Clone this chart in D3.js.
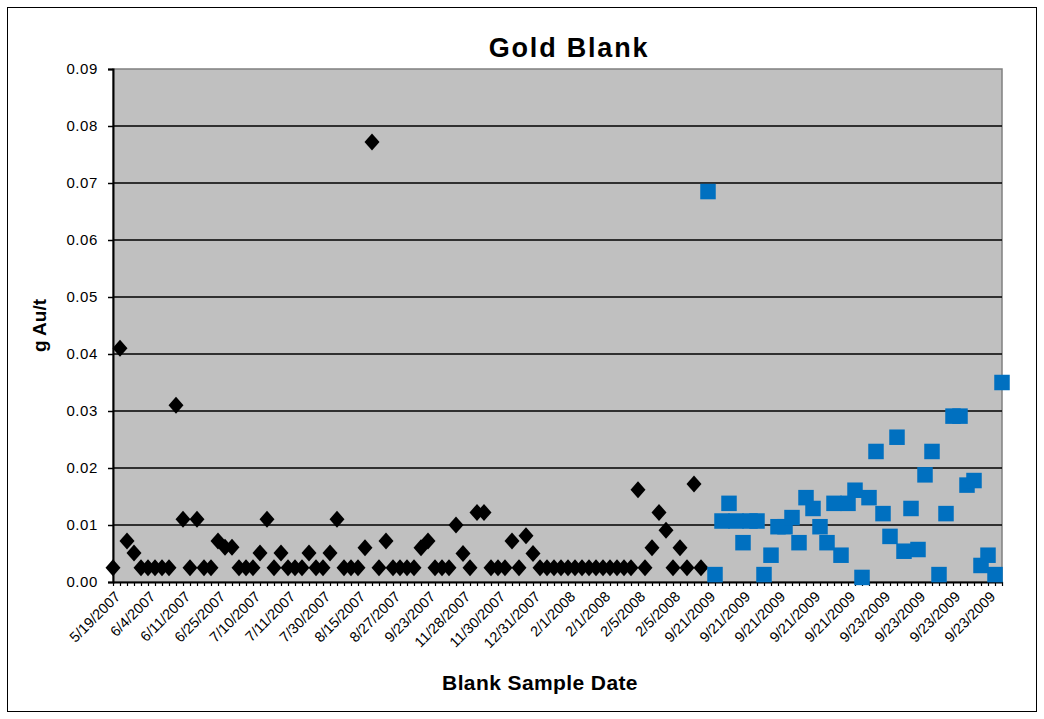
<!DOCTYPE html>
<html>
<head>
<meta charset="utf-8">
<script src="https://cdn.jsdelivr.net/npm/d3@7"></script>
<style>
  body { margin: 0; background: #fff; }
  text { font-family: Arial, "Liberation Sans", sans-serif; fill: #000; }
</style>
</head>
<body>
<svg id="chart" width="1044" height="719"></svg>
<script>
// Date labels shown on the category axis (one every five samples)
const tickLabels = [
  "5/19/2007", "6/4/2007", "6/11/2007", "6/25/2007", "7/10/2007", "7/11/2007",
  "7/30/2007", "8/15/2007", "8/27/2007", "9/23/2007", "11/28/2007", "11/30/2007",
  "12/31/2007", "2/1/2008", "2/1/2008", "2/5/2008", "2/5/2008",
  "9/21/2009", "9/21/2009", "9/21/2009", "9/21/2009", "9/21/2009",
  "9/23/2009", "9/23/2009", "9/23/2009", "9/23/2009"
];
const labelEvery = 5;

// Blank assays 2007–2008 (g Au/t)
const blanks2007 = [
  0.0025, 0.041, 0.0072, 0.0051, 0.0025, 0.0025, 0.0025, 0.0025, 0.0025, 0.031,
  0.011, 0.0025, 0.011, 0.0025, 0.0025, 0.0072, 0.0061, 0.0061, 0.0025, 0.0025,
  0.0025, 0.0051, 0.011, 0.0025, 0.0051, 0.0025, 0.0025, 0.0025, 0.0051, 0.0025,
  0.0025, 0.0051, 0.011, 0.0025, 0.0025, 0.0025, 0.006, 0.0772, 0.0025, 0.0072,
  0.0025, 0.0025, 0.0025, 0.0025, 0.006, 0.0072, 0.0025, 0.0025, 0.0025, 0.010,
  0.005, 0.0025, 0.0122, 0.0122, 0.0025, 0.0025, 0.0025, 0.0072, 0.0025, 0.0081,
  0.005, 0.0025, 0.0025, 0.0025, 0.0025, 0.0025, 0.0025, 0.0025, 0.0025, 0.0025,
  0.0025, 0.0025, 0.0025, 0.0025, 0.0025, 0.0162, 0.0025, 0.006, 0.0122, 0.0091,
  0.0025, 0.006, 0.0025, 0.0172, 0.0025
];

// Blank assays 2009 (g Au/t)
const blanks2009 = [
  0.0685, 0.0013, 0.0107, 0.0138, 0.0107, 0.0069, 0.0107, 0.0107, 0.0013, 0.0047,
  0.0097, 0.0097, 0.0113, 0.0069, 0.0148, 0.0129, 0.0097, 0.0069, 0.0138, 0.0047,
  0.0138, 0.0161, 0.0008, 0.0148, 0.0229, 0.0120, 0.0080, 0.0254, 0.0054, 0.0129,
  0.0057, 0.0188, 0.0229, 0.0013, 0.0120, 0.0291, 0.0291, 0.0170, 0.0178, 0.0029,
  0.0047, 0.0013, 0.0350
];

const yTicks = [0, 0.01, 0.02, 0.03, 0.04, 0.05, 0.06, 0.07, 0.08, 0.09];

const svg = d3.select("#chart");
const plot = { left: 113, right: 1002, top: 69, bottom: 582 };

const categories = d3.range(blanks2007.length + blanks2009.length);
const x = d3.scalePoint().domain(categories).range([plot.left, plot.right]);
const y = d3.scaleLinear().domain([0, 0.09]).range([plot.bottom, plot.top]);

// outer chart frame
svg.append("rect")
  .attr("x", 7.5).attr("y", 7.5).attr("width", 1029).attr("height", 704)
  .attr("fill", "#fff").attr("stroke", "#000").attr("stroke-width", 1);

// plot area
svg.append("rect")
  .attr("x", plot.left).attr("y", plot.top)
  .attr("width", plot.right - plot.left).attr("height", plot.bottom - plot.top)
  .attr("fill", "#c0c0c0").attr("stroke", "#808080").attr("stroke-width", 1.5);

// horizontal gridlines
svg.append("g").selectAll("line")
  .data(yTicks.filter(d => d > 0 && d < 0.09))
  .join("line")
  .attr("x1", plot.left).attr("x2", plot.right)
  .attr("y1", d => y(d)).attr("y2", d => y(d))
  .attr("stroke", "#000").attr("stroke-width", 1.6);

// y axis
const yAxis = svg.append("g")
  .attr("transform", `translate(${plot.left},0)`)
  .call(d3.axisLeft(y).tickValues(yTicks).tickFormat(d3.format(".2f")).tickSize(5).tickPadding(10));
yAxis.select(".domain").attr("stroke", "#000").attr("stroke-width", 2);
yAxis.selectAll(".tick line").attr("stroke", "#000").attr("stroke-width", 1.5);
yAxis.selectAll("text").style("font-size", "15px").style("letter-spacing", "0.6px");

// x axis
const xAxis = svg.append("g")
  .attr("transform", `translate(0,${plot.bottom})`)
  .call(d3.axisBottom(x).tickValues(categories).tickSize(4).tickSizeOuter(0)
    .tickFormat(d => d % labelEvery === 0 ? tickLabels[d / labelEvery] : ""));
xAxis.select(".domain").attr("stroke", "#000").attr("stroke-width", 2);
xAxis.selectAll(".tick line").attr("stroke", "#000").attr("stroke-width", 1.2);
xAxis.selectAll("text")
  .attr("x", 0).attr("y", 0).attr("dy", "0.35em")
  .attr("transform", "translate(4,12) rotate(-45)")
  .style("text-anchor", "end")
  .style("font-size", "14.5px");

// 2007–2008 blanks: black diamonds
const diamond = "M0,-8.5L7.5,0L0,8.5L-7.5,0Z";
svg.append("g").selectAll("path")
  .data(blanks2007)
  .join("path")
  .attr("d", diamond)
  .attr("transform", (d, i) => `translate(${x(i)},${y(d)})`)
  .attr("fill", "#000");

// 2009 blanks: blue squares
const sq = 15.5;
svg.append("g").selectAll("rect")
  .data(blanks2009)
  .join("rect")
  .attr("x", (d, i) => x(i + blanks2007.length) - sq / 2)
  .attr("y", d => y(d) - sq / 2)
  .attr("width", sq).attr("height", sq)
  .attr("fill", "#0070c0");

// titles
svg.append("text")
  .attr("x", 569).attr("y", 57)
  .attr("text-anchor", "middle")
  .style("font-size", "27px").style("font-weight", "bold").style("letter-spacing", "1.8px")
  .text("Gold Blank");

svg.append("text")
  .attr("transform", `translate(46,${(plot.top + plot.bottom) / 2}) rotate(-90)`)
  .attr("text-anchor", "middle")
  .style("font-size", "19px").style("font-weight", "bold")
  .text("g Au/t");

svg.append("text")
  .attr("x", 540).attr("y", 690)
  .attr("text-anchor", "middle")
  .style("font-size", "21px").style("font-weight", "bold").style("letter-spacing", "0.4px")
  .text("Blank Sample Date");
</script>
</body>
</html>
